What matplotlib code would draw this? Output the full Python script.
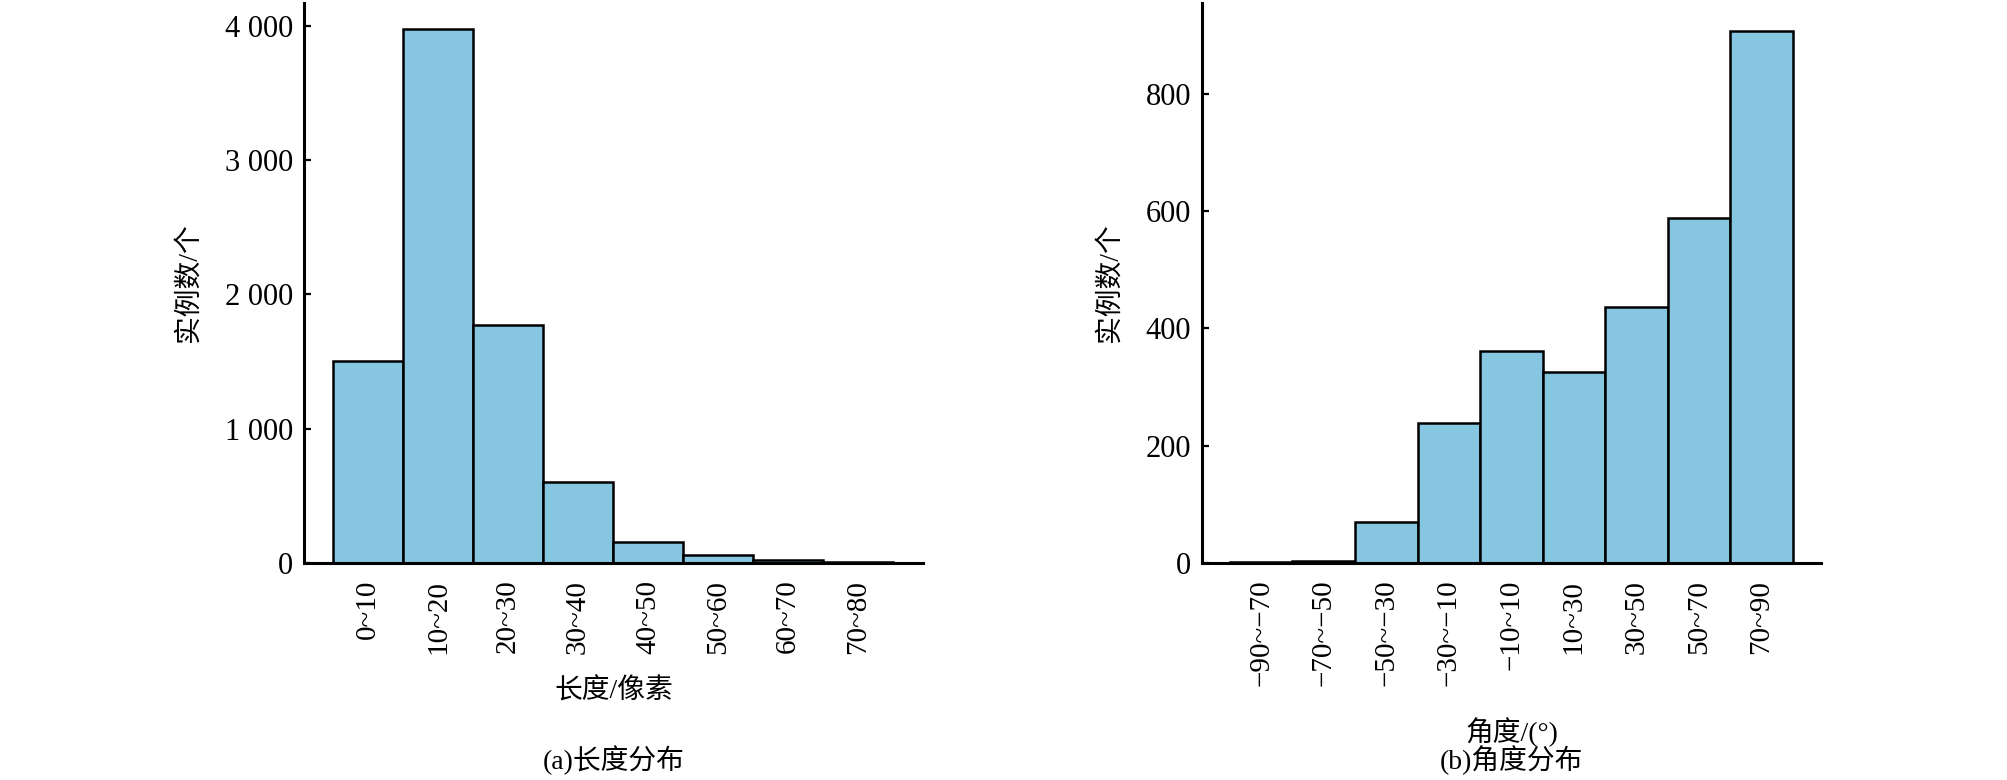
import matplotlib
matplotlib.use("Agg")
import matplotlib.pyplot as plt
from matplotlib.ticker import FuncFormatter

plt.rcParams["font.family"] = ["Liberation Serif", "Noto Sans CJK SC"]

# (a) length distribution
length_bins = ["0~10", "10~20", "20~30", "30~40", "40~50", "50~60", "60~70", "70~80"]
length_counts = [1507, 3978, 1774, 600, 160, 63, 22, 10]

# (b) angle distribution
angle_bins = ["\u221290~\u221270", "\u221270~\u221250", "\u221250~\u221230", "\u221230~\u221210",
              "\u221210~10", "10~30", "30~50", "50~70", "70~90"]
angle_counts = [1, 3, 70, 238, 362, 325, 436, 588, 908]

BAR_COLOR = "#86C6E0"


def thousands(v, pos):
    v = int(round(v))
    if v >= 1000:
        return "{} {:03d}".format(v // 1000, v % 1000)
    return str(v)


def style_axes(ax):
    for side in ["top", "right"]:
        ax.spines[side].set_visible(False)
    for side in ["left", "bottom"]:
        ax.spines[side].set_linewidth(2.2)
    ax.tick_params(axis="y", direction="in", length=5, width=1.6, pad=8, labelsize=22)
    ax.tick_params(axis="x", length=0, pad=12, labelsize=21, labelrotation=90)


def main():
    fig = plt.figure(figsize=(20.08, 7.8), dpi=100)

    ax1 = fig.add_axes([0.1514, 0.2782, 0.3083, 0.718])
    x1 = range(len(length_bins))
    ax1.bar(x1, length_counts, width=1.0, color=BAR_COLOR, edgecolor="black", linewidth=1.8)
    ax1.set_xticks(list(x1))
    ax1.set_xticklabels(length_bins)
    ax1.set_xlim(-0.914, 7.929)
    ax1.set_ylim(0, 4171)
    ax1.set_yticks([0, 1000, 2000, 3000, 4000])
    ax1.yaxis.set_major_formatter(FuncFormatter(thousands))
    style_axes(ax1)
    ax1.set_ylabel("实例数/个", fontsize=20)
    ax1.yaxis.set_label_coords(-0.165, 0.5)
    ax1.set_xlabel("长度/像素", fontsize=20)
    ax1.xaxis.set_label_coords(0.5, -0.205)

    ax2 = fig.add_axes([0.5986, 0.2782, 0.3083, 0.718])
    x2 = range(len(angle_bins))
    ax2.bar(x2, angle_counts, width=1.0, color=BAR_COLOR, edgecolor="black", linewidth=1.8)
    ax2.set_xticks(list(x2))
    ax2.set_xticklabels(angle_bins)
    ax2.set_xlim(-0.948, 8.956)
    ax2.set_ylim(0, 955)
    ax2.set_yticks([0, 200, 400, 600, 800])
    style_axes(ax2)
    ax2.set_ylabel("实例数/个", fontsize=20)
    ax2.yaxis.set_label_coords(-0.129, 0.5)
    ax2.set_xlabel("角度/(°)", fontsize=20)
    ax2.xaxis.set_label_coords(0.5, -0.275)

    fig.text(0.3056, 0.0256, "(a)长度分布", ha="center", va="center", fontsize=20)
    fig.text(0.7528, 0.0256, "(b)角度分布", ha="center", va="center", fontsize=20)

    fig.savefig("out.png", dpi=100)


if __name__ == "__main__":
    main()
